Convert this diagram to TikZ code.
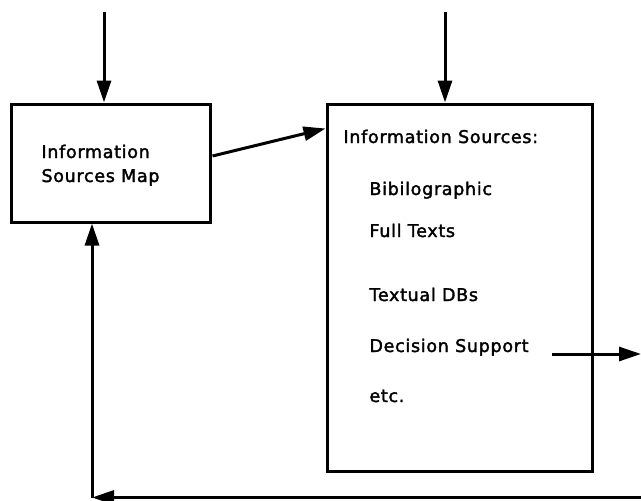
\documentclass[tikz,border=0pt]{standalone}
\usepackage{fontspec}
\setmainfont{DejaVu Sans}[LetterSpace=4,FakeBold=2]
\usetikzlibrary{arrows.meta,calc}
\begin{document}
\begin{tikzpicture}[x=1pt,y=-1pt,line width=3pt,
  arr/.style={-{Triangle[length=22pt,width=14pt]}},
  lbl/.style={anchor=base west,inner sep=0pt,font=\fontsize{17.5}{21}\selectfont},
  box/.style={draw,line width=3pt,inner sep=0pt}]
\useasboundingbox (0,0) rectangle (641,501);
\clip (0,0) rectangle (641,501);
\node[box,minimum width=198.5pt,minimum height=118pt] (map) at (110.75,163) {};
\node[box,minimum width=265pt,minimum height=367pt] (src) at (459.5,287.5) {};
% labels
\node[lbl] (m1) at (40,158) {Information};
\node[lbl] (m2) at (40,182) {Sources Map};
\node[lbl] (s0) at (342,143) {Information Sources:};
\node[lbl] (s1) at (368,195) {Bibilographic};
\node[lbl] (s2) at (368,237) {Full Texts};
\node[lbl] (s3) at (368,301) {Textual DBs};
\node[lbl] (s4) at (368,352) {Decision Support};
\node[lbl] (s5) at (368,402) {etc.};
% connectors
\coordinate (t1) at (104,12);
\coordinate (t2) at (445,12);
\draw[arr] (t1) -- (t1 |- map.north);
\draw[arr] (t2) -- (t2 |- src.north);
\draw[arr] ($(map.east)+(1,-7)$) -- ($(src.north west)+(0,26)$);
\coordinate (ds) at (552,354);
\coordinate (out) at (641,354);
\draw[arr] (ds) -- (out);
\coordinate (fb) at (650,497.5);
\coordinate (corner) at (92,497.5);
\draw[arr] (fb) -- (corner);
\draw[arr] (corner) -- (corner |- map.south);
\end{tikzpicture}
\end{document}
